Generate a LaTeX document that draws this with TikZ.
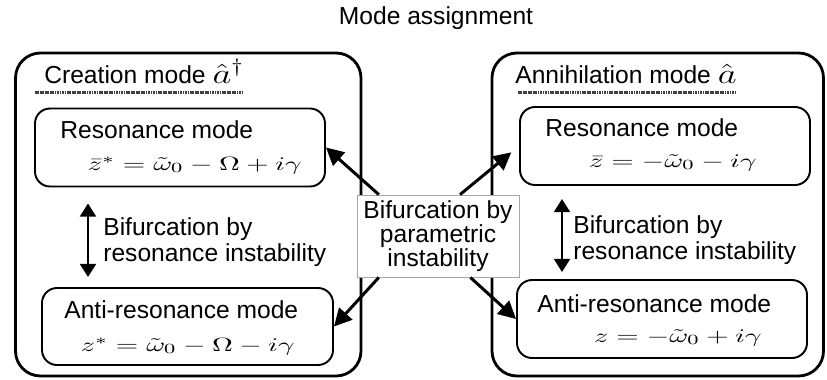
\documentclass[tikz,border=0pt]{standalone}
\usepackage{amsmath}
\usepackage{amssymb}
\usepackage{graphicx}
\usepackage{fontspec}
\setmainfont{Liberation Sans}
\usetikzlibrary{arrows.meta}

% stretched formula, smaller than the labels
\newcommand{\modeeq}[1]{{\fontsize{11}{13}\selectfont\scalebox{1.5}[1]{$#1$}}}

\begin{document}
\begin{tikzpicture}[
    font=\fontsize{14}{14.8}\selectfont,
    outerbox/.style={draw, line width=1.6pt, rounded corners=0.5cm, inner sep=0pt},
    modebox/.style={draw, line width=1.1pt, rounded corners=0.3cm, minimum width=5.8cm, minimum height=1.56cm, inner sep=0pt},
    label/.style={inner sep=0pt},
    arr/.style={-{Triangle[length=10pt,width=10pt]}, line width=1.7pt},
    dblarr/.style={{Triangle[length=7.5pt,width=9pt]}-{Triangle[length=7.5pt,width=9pt]}, line width=1.6pt},
    underl/.style={line width=1.8pt, black!75, dash pattern=on 1pt off 0.4pt}
]
    \useasboundingbox (0,0) rectangle (16.54,7.58);

    % Title
    \node (title) at (8.72,7.22) {Mode assignment};

    % Outer frames
    \node[outerbox, minimum width=6.91cm, minimum height=6.46cm] (creation) at (3.765,3.29) {};
    \node[outerbox, minimum width=6.63cm, minimum height=6.46cm] (annihil) at (13.155,3.29) {};

    % Creation side
    \node[label, anchor=base west] (ctitle) at (0.88,5.92) {Creation mode \scalebox{1.45}[1.1]{$\hat{a}^{\dagger}$}};
    \draw[underl] (0.70,5.73) -- (4.86,5.73);

    \node[modebox] (resC) at (3.60,4.63) {};
    \node[label, anchor=base west] (resCname) at (1.20,4.82) {Resonance mode};
    \node[label, anchor=base east] (resCeq) at (6.04,4.18) {\modeeq{\bar{z}^{*}=\tilde{\omega}_0-\Omega+i\gamma}};

    \node[modebox, minimum width=5.82cm, minimum height=1.54cm] (antiC) at (3.75,1.05) {};
    \node[label, anchor=base west] (antiCname) at (1.28,1.22) {Anti-resonance mode};
    \node[label, anchor=base east] (antiCeq) at (5.90,0.56) {\modeeq{z^{*}=\tilde{\omega}_0-\Omega-i\gamma}};

    \coordinate (cx) at (1.76,0);
    \draw[dblarr, shorten <=0.32cm, shorten >=0.2cm] (resC.south -| cx) -- (antiC.north -| cx);
    \node[label, anchor=west, align=left] (bifC) at (2.06,2.74) {Bifurcation by\\resonance instability};

    % Annihilation side
    \node[label, anchor=base west] (atitle) at (10.30,5.92) {Annihilation mode \scalebox{1.45}[1.1]{$\hat{a}$}};
    \draw[underl] (10.36,5.73) -- (14.70,5.73);

    \node[modebox] (resA) at (13.30,4.66) {};
    \node[label, anchor=base west] (resAname) at (10.90,4.86) {Resonance mode};
    \node[label, anchor=base east] (resAeq) at (15.14,4.24) {\modeeq{\bar{z}=-\tilde{\omega}_0-i\gamma}};

    \node[modebox] (antiA) at (13.24,1.20) {};
    \node[label, anchor=base west] (antiAname) at (10.74,1.34) {Anti-resonance mode};
    \node[label, anchor=base east] (antiAeq) at (15.24,0.74) {\modeeq{z=-\tilde{\omega}_0+i\gamma}};

    \coordinate (ax) at (11.24,0);
    \draw[dblarr, shorten <=0.26cm, shorten >=0.14cm] (resA.south -| ax) -- (antiA.north -| ax);
    \node[label, anchor=west, align=left] (bifA) at (11.46,2.78) {Bifurcation by\\resonance instability};

    % Parametric instability in the middle
    \node[draw=black!35, fill=white, line width=0.5pt, minimum width=3.24cm, minimum height=1.64cm,
          align=center, inner sep=0pt, font=\fontsize{14}{13.8}\selectfont] (param) at (8.76,2.86)
          {Bifurcation by\\parametric\\instability};

    \draw[arr] (param.145) -- (resC.east);
    \draw[arr] (param.-145) -- (antiC.east);
    \draw[arr, shorten >=0.2cm] (param.62) -- (resA.west);
    \draw[arr] (param.-52) -- (antiA.west);
\end{tikzpicture}
\end{document}
